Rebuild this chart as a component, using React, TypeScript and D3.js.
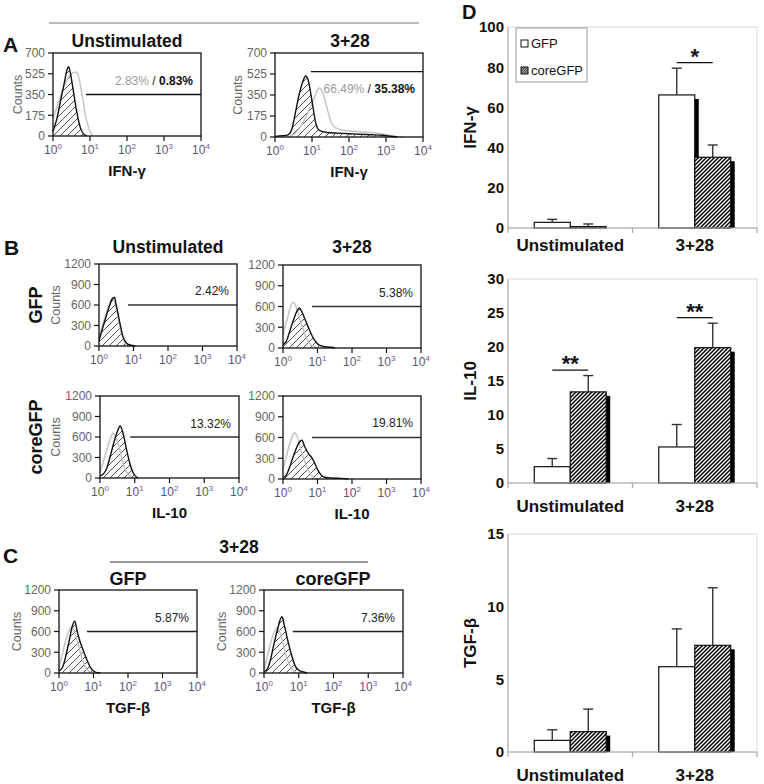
import React from 'react';
import * as d3 from 'd3';

type Pt = [number, number];

// ---------- DATA ----------
// Histograms: [log10 fluorescence, counts]
const aUnstimGray: Pt[] = [[0, 150], [0.15, 280], [0.3, 420], [0.45, 510], [0.55, 535], [0.62, 540], [0.7, 490], [0.8, 320], [0.9, 140], [1.0, 40], [1.08, 0]];
const aUnstimBlack: Pt[] = [[0, 40], [0.1, 140], [0.2, 290], [0.3, 440], [0.38, 560], [0.42, 585], [0.47, 530], [0.55, 380], [0.65, 190], [0.75, 60], [0.85, 10], [0.92, 0]];
const aStimGray: Pt[] = [[0.3, 0], [0.5, 20], [0.7, 90], [0.9, 210], [1.05, 320], [1.2, 408], [1.3, 360], [1.4, 250], [1.5, 140], [1.6, 85], [1.8, 58], [2.1, 48], [2.4, 42], [2.7, 35], [3.0, 20], [3.3, 5], [3.5, 0]];
const aStimBlack: Pt[] = [[0, 5], [0.2, 10], [0.35, 18], [0.45, 60], [0.55, 200], [0.65, 350], [0.75, 460], [0.83, 508], [0.9, 470], [1.0, 300], [1.1, 120], [1.2, 55], [1.4, 38], [1.7, 32], [2.0, 27], [2.3, 23], [2.6, 19], [2.9, 15], [3.1, 6], [3.3, 0]];

const bGfpUnstimGray: Pt[] = [[0, 120], [0.1, 300], [0.2, 470], [0.3, 620], [0.38, 690], [0.45, 650], [0.55, 420], [0.65, 180], [0.75, 50], [0.85, 10], [0.95, 0]];
const bGfpUnstimBlack: Pt[] = [[0, 80], [0.1, 250], [0.2, 420], [0.3, 580], [0.4, 700], [0.45, 710], [0.5, 600], [0.6, 350], [0.7, 130], [0.8, 40], [0.9, 15], [1.0, 5], [1.05, 0]];
const bGfpStimGray: Pt[] = [[0, 200], [0.1, 380], [0.2, 560], [0.28, 660], [0.33, 650], [0.4, 560], [0.5, 400], [0.6, 250], [0.7, 120], [0.8, 50], [0.9, 20], [1.0, 0]];
const bGfpStimBlack: Pt[] = [[0, 50], [0.1, 100], [0.2, 250], [0.3, 400], [0.4, 530], [0.47, 580], [0.55, 520], [0.65, 400], [0.75, 280], [0.85, 170], [0.95, 90], [1.05, 40], [1.2, 20], [1.4, 10], [1.5, 0]];
const bCoreUnstimGray: Pt[] = [[0, 80], [0.1, 250], [0.2, 420], [0.3, 580], [0.38, 660], [0.45, 600], [0.55, 450], [0.65, 250], [0.75, 100], [0.85, 30], [0.95, 0]];
const bCoreUnstimBlack: Pt[] = [[0, 30], [0.1, 60], [0.2, 150], [0.3, 330], [0.4, 520], [0.5, 680], [0.58, 760], [0.65, 680], [0.75, 450], [0.85, 230], [0.95, 80], [1.05, 15], [1.1, 0]];
const bCoreStimGray: Pt[] = [[0, 150], [0.1, 330], [0.2, 520], [0.3, 650], [0.35, 665], [0.42, 600], [0.5, 450], [0.6, 300], [0.7, 160], [0.8, 70], [0.9, 20], [1.0, 0]];
const bCoreStimBlack: Pt[] = [[0, 20], [0.1, 60], [0.2, 180], [0.3, 330], [0.4, 460], [0.5, 550], [0.55, 560], [0.62, 480], [0.72, 380], [0.82, 320], [0.9, 250], [1.0, 140], [1.1, 60], [1.2, 25], [1.4, 15], [1.6, 10], [1.8, 5], [1.9, 0]];

const cGfpGray: Pt[] = [[0, 80], [0.1, 280], [0.2, 480], [0.3, 620], [0.38, 670], [0.45, 600], [0.55, 420], [0.65, 240], [0.75, 100], [0.85, 30], [0.95, 0]];
const cGfpBlack: Pt[] = [[0, 30], [0.1, 80], [0.2, 250], [0.3, 480], [0.4, 700], [0.46, 750], [0.52, 620], [0.6, 470], [0.7, 330], [0.8, 200], [0.9, 90], [1.0, 30], [1.1, 5], [1.2, 0]];
const cCoreGray: Pt[] = [[0, 60], [0.1, 250], [0.2, 450], [0.3, 600], [0.38, 650], [0.45, 600], [0.55, 420], [0.65, 230], [0.75, 100], [0.85, 30], [0.95, 0]];
const cCoreBlack: Pt[] = [[0, 20], [0.1, 60], [0.2, 220], [0.3, 450], [0.4, 650], [0.48, 790], [0.52, 814], [0.58, 700], [0.68, 480], [0.8, 250], [0.9, 100], [1.0, 40], [1.1, 20], [1.24, 0]];

const histTicksA = [0, 175, 350, 525, 700];
const histTicksBC = [0, 300, 600, 900, 1200];
const decades = [0, 1, 2, 3, 4];

// Bar charts (panel D)
const categories = ['Unstimulated', '3+28'];
const seriesNames = ['GFP', 'coreGFP'];
const ifngGFP = [2.8, 66.2];
const ifngGFPErr = [1.5, 13.3];
const ifngCore = [0.7, 35.2];
const ifngCoreErr = [1.3, 6.1];
const il10GFP = [2.4, 5.3];
const il10GFPErr = [1.2, 3.3];
const il10Core = [13.4, 19.9];
const il10CoreErr = [2.4, 3.6];
const tgfGFP = [0.8, 5.87];
const tgfGFPErr = [0.73, 2.6];
const tgfCore = [1.4, 7.34];
const tgfCoreErr = [1.55, 3.96];
const ifngTicks = [0, 20, 40, 60, 80, 100];
const il10Ticks = [0, 5, 10, 15, 20, 25, 30];
const tgfTicks = [0, 5, 10, 15];
const ifngSig = [{ cat: '3+28', label: '*' }];
const il10Sig = [{ cat: 'Unstimulated', label: '**' }, { cat: '3+28', label: '**' }];
const tgfSig: { cat: string; label: string }[] = [];

// ---------- LAYOUT ----------
const FONT = "'Liberation Sans', Arial, Helvetica, sans-serif";

type HistSpec = {
  x0: number; x1: number; yT: number; yB: number;
  yMax: number; ticks: number[];
  gray: Pt[]; black: Pt[];
  gateCount: number; gateStart: number; gateColor: string;
  label: React.ReactNode; labelY: number;
  counts?: number; xLabel?: string;
};

const grayTxt = '#9a9a9a';

const hists: HistSpec[] = [
  {
    x0: 53, x1: 201, yT: 53, yB: 136, yMax: 700, ticks: histTicksA, gray: aUnstimGray, black: aUnstimBlack,
    gateCount: 350, gateStart: 0.89, gateColor: '#111', labelY: 85, counts: 22, xLabel: 'IFN-γ',
    label: (<><tspan fill={grayTxt}>2.83%</tspan><tspan fill="#222"> / </tspan><tspan fontWeight="bold" fill="#111">0.83%</tspan></>),
  },
  {
    x0: 275, x1: 423, yT: 53, yB: 137, yMax: 700, ticks: histTicksA, gray: aStimGray, black: aStimBlack,
    gateCount: 545, gateStart: 0.97, gateColor: '#111', labelY: 93, counts: 242, xLabel: 'IFN-γ',
    label: (<><tspan fill={grayTxt}>66.49%</tspan><tspan fill="#222"> / </tspan><tspan fontWeight="bold" fill="#111">35.38%</tspan></>),
  },
  {
    x0: 99, x1: 237, yT: 264, yB: 346, yMax: 1200, ticks: histTicksBC, gray: bGfpUnstimGray, black: bGfpUnstimBlack,
    gateCount: 600, gateStart: 0.84, gateColor: '#333', labelY: 295, counts: 60, label: '2.42%',
  },
  {
    x0: 283, x1: 421, yT: 265, yB: 348, yMax: 1200, ticks: histTicksBC, gray: bGfpStimGray, black: bGfpStimBlack,
    gateCount: 600, gateStart: 0.84, gateColor: '#333', labelY: 297, label: '5.38%',
  },
  {
    x0: 100, x1: 239, yT: 396, yB: 478, yMax: 1200, ticks: histTicksBC, gray: bCoreUnstimGray, black: bCoreUnstimBlack,
    gateCount: 600, gateStart: 0.87, gateColor: '#333', labelY: 428, counts: 60, xLabel: 'IL-10', label: '13.32%',
  },
  {
    x0: 283, x1: 421, yT: 396, yB: 479, yMax: 1200, ticks: histTicksBC, gray: bCoreStimGray, black: bCoreStimBlack,
    gateCount: 600, gateStart: 0.84, gateColor: '#333', labelY: 427, xLabel: 'IL-10', label: '19.81%',
  },
  {
    x0: 59, x1: 197, yT: 590, yB: 673, yMax: 1200, ticks: histTicksBC, gray: cGfpGray, black: cGfpBlack,
    gateCount: 600, gateStart: 0.81, gateColor: '#222', labelY: 622, counts: 21, xLabel: 'TGF-β', label: '5.87%',
  },
  {
    x0: 264, x1: 403, yT: 590, yB: 673, yMax: 1200, ticks: histTicksBC, gray: cCoreGray, black: cCoreBlack,
    gateCount: 600, gateStart: 0.83, gateColor: '#222', labelY: 622, counts: 226, xLabel: 'TGF-β', label: '7.36%',
  },
];

function Histogram({ h }: { h: HistSpec }) {
  const x = d3.scaleLinear().domain([0, 4]).range([h.x0, h.x1]);
  const y = d3.scaleLinear().domain([0, h.yMax]).range([h.yB, h.yT]);
  const line = d3.line<Pt>().x(d => x(d[0])).y(d => y(d[1])).curve(d3.curveMonotoneX);
  const area = d3.area<Pt>().x(d => x(d[0])).y0(y(0)).y1(d => y(d[1])).curve(d3.curveMonotoneX);
  return (
    <g>
      <path d={area(h.black) || ''} fill="url(#histHatch)" stroke="none" />
      <path d={line(h.gray) || ''} fill="none" stroke="#c4c4c4" strokeWidth={1.5} />
      <path d={line(h.black) || ''} fill="none" stroke="#111" strokeWidth={1.4} />
      <line x1={x(h.gateStart)} x2={h.x1} y1={y(h.gateCount)} y2={y(h.gateCount)} stroke={h.gateColor} strokeWidth={1.3} />
      <text x={h.x1 - 8} y={h.labelY} textAnchor="end" fontSize={12} fill="#222">{h.label}</text>
      <rect x={h.x0} y={h.yT} width={h.x1 - h.x0} height={h.yB - h.yT} fill="none" stroke="#111" strokeWidth={1.3} />
      {h.ticks.map(t => (
        <g key={'y' + t}>
          <line x1={h.x0 - 5} x2={h.x0} y1={y(t)} y2={y(t)} stroke="#111" strokeWidth={1.2} />
          <text x={h.x0 - 8} y={y(t)} dy="0.36em" textAnchor="end" fontSize={12} fill="#666">{t}</text>
        </g>
      ))}
      {decades.map(dd => (
        <g key={'x' + dd}>
          <line x1={x(dd)} x2={x(dd)} y1={h.yB} y2={h.yB + 5} stroke="#111" strokeWidth={1.2} />
          <text x={x(dd)} y={h.yB + 18} textAnchor="middle" fontSize={12} fill="#5e5470">
            10<tspan dy={-5} fontSize={8} fill="#7a4f9c">{dd}</tspan>
          </text>
        </g>
      ))}
      {h.counts !== undefined && (
        <text transform={`translate(${h.counts},${(h.yT + h.yB) / 2}) rotate(-90)`} textAnchor="middle" fontSize={12.5} fill="#666">Counts</text>
      )}
      {h.xLabel && (
        <text x={(h.x0 + h.x1) / 2} y={h.yB + 40} textAnchor="middle" fontSize={15} fontWeight="bold" fill="#111">{h.xLabel}</text>
      )}
    </g>
  );
}

type BarSpec = {
  top: number; bottom: number; yMax: number; ticks: number[];
  gfp: number[]; gfpErr: number[]; core: number[]; coreErr: number[];
  sig: { cat: string; label: string }[];
  yLabel: string; catY: number; legend?: boolean;
};

const barSpecs: BarSpec[] = [
  { top: 27, bottom: 228, yMax: 100, ticks: ifngTicks, gfp: ifngGFP, gfpErr: ifngGFPErr, core: ifngCore, coreErr: ifngCoreErr, sig: ifngSig, yLabel: 'IFN-γ', catY: 251, legend: true },
  { top: 279, bottom: 483, yMax: 30, ticks: il10Ticks, gfp: il10GFP, gfpErr: il10GFPErr, core: il10Core, coreErr: il10CoreErr, sig: il10Sig, yLabel: 'IL-10', catY: 512 },
  { top: 534, bottom: 752, yMax: 15, ticks: tgfTicks, gfp: tgfGFP, gfpErr: tgfGFPErr, core: tgfCore, coreErr: tgfCoreErr, sig: tgfSig, yLabel: 'TGF-β', catY: 781 },
];

const PLOT_L = 508;
const PLOT_R = 757;

function BarPanel({ s }: { s: BarSpec }) {
  const x = d3.scaleBand<string>().domain(categories).range([PLOT_L, PLOT_R]);
  const xs = d3.scaleBand<string>().domain(seriesNames).range([0, x.bandwidth()]).paddingInner(0).paddingOuter(0.73);
  const y = d3.scaleLinear().domain([0, s.yMax]).range([s.bottom, s.top]);
  const bw = xs.bandwidth();
  const vals: Record<string, number[]> = { GFP: s.gfp, coreGFP: s.core };
  const errs: Record<string, number[]> = { GFP: s.gfpErr, coreGFP: s.coreErr };
  return (
    <g>
      <rect x={PLOT_L} y={s.top} width={PLOT_R - PLOT_L} height={s.bottom - s.top} fill="none" stroke="#d9d9d9" strokeWidth={1} />
      <line x1={PLOT_L} x2={PLOT_L} y1={s.top} y2={s.bottom} stroke="#b5b5b5" strokeWidth={1.2} />
      {categories.map((c, i) => (
        <g key={c}>
          {seriesNames.map(sn => {
            const v = vals[sn][i];
            const e = errs[sn][i];
            const bx = (x(c) as number) + (xs(sn) as number);
            const cx = bx + bw / 2;
            return (
              <g key={sn}>
                <rect x={bx + 4} y={y(v) + 4} width={bw} height={Math.max(0, s.bottom - y(v) - 4)} fill="#000" />
                <rect x={bx} y={y(v)} width={bw} height={s.bottom - y(v)} fill={sn === 'GFP' ? '#fff' : 'url(#barHatch)'} stroke="#111" strokeWidth={1.2} />
                <line x1={cx} x2={cx} y1={y(v)} y2={y(v + e)} stroke="#333" strokeWidth={1.4} />
                <line x1={cx - 5} x2={cx + 5} y1={y(v + e)} y2={y(v + e)} stroke="#333" strokeWidth={1.4} />
              </g>
            );
          })}
        </g>
      ))}
      <line x1={PLOT_L} x2={PLOT_R} y1={s.bottom} y2={s.bottom} stroke="#a8a8a8" strokeWidth={1.2} />
      {[PLOT_L, (PLOT_L + PLOT_R) / 2, PLOT_R].map((tx, k) => (
        <line key={k} x1={tx} x2={tx} y1={s.bottom} y2={s.bottom + 5} stroke="#a8a8a8" strokeWidth={1.2} />
      ))}
      {s.ticks.map(t => (
        <text key={t} x={504} y={y(t)} dy="0.36em" textAnchor="end" fontSize={15} fontWeight="bold" fill="#111">{t}</text>
      ))}
      {categories.map(c => (
        <text key={c} x={(x(c) as number) + x.bandwidth() / 2} y={s.catY} textAnchor="middle" fontSize={17} fontWeight="bold" fill="#111">{c}</text>
      ))}
      {s.sig.map(g => {
        const i = categories.indexOf(g.cat);
        const top = Math.max(s.gfp[i] + s.gfpErr[i], s.core[i] + s.coreErr[i]);
        const ly = y(top) - 5.5;
        const x1 = (x(g.cat) as number) + (xs('GFP') as number) + bw / 2;
        const x2 = (x(g.cat) as number) + (xs('coreGFP') as number) + bw / 2;
        return (
          <g key={g.cat}>
            <line x1={x1} x2={x2} y1={ly} y2={ly} stroke="#111" strokeWidth={1.3} />
            <text x={(x1 + x2) / 2} y={ly + 1} textAnchor="middle" fontSize={22} fontWeight="bold" fill="#111">{g.label}</text>
          </g>
        );
      })}
      <text transform={`translate(476,${(s.top + s.bottom) / 2}) rotate(-90)`} textAnchor="middle" fontSize={17} fontWeight="bold" fill="#111">{s.yLabel}</text>
      {s.legend && (
        <g>
          <rect x={516} y={28} width={71} height={54} fill="#fff" stroke="#9a9a9a" strokeWidth={1} />
          {seriesNames.map((sn, k) => (
            <g key={sn}>
              <rect x={521} y={40 + k * 27} width={7} height={7} fill={sn === 'GFP' ? '#fff' : 'url(#barHatchSmall)'} stroke="#111" strokeWidth={1} />
              <text x={531} y={48 + k * 27} fontSize={13} fill="#111">{sn}</text>
            </g>
          ))}
        </g>
      )}
    </g>
  );
}

export default function App() {
  return (
    <svg width={764} height={784} viewBox="0 0 764 784" style={{ position: 'absolute', left: 0, top: 0, background: '#fff' }} fontFamily={FONT}>
      <defs>
        <pattern id="histHatch" patternUnits="userSpaceOnUse" width={7} height={7}>
          <path d="M-1,1 l2,-2 M0,7 l7,-7 M6,8 l2,-2" stroke="#222" strokeWidth={0.8} />
        </pattern>
        <pattern id="barHatch" patternUnits="userSpaceOnUse" width={4} height={4}>
          <rect width={4} height={4} fill="#fff" />
          <path d="M-1,1 l2,-2 M0,4 l4,-4 M3,5 l2,-2" stroke="#000" strokeWidth={1.5} />
        </pattern>
        <pattern id="barHatchSmall" patternUnits="userSpaceOnUse" width={2.5} height={2.5}>
          <rect width={2.5} height={2.5} fill="#fff" />
          <path d="M-0.5,0.5 l1,-1 M0,2.5 l2.5,-2.5 M2,3 l1,-1" stroke="#000" strokeWidth={1} />
        </pattern>
      </defs>
      <rect width={764} height={784} fill="#fff" />

      {/* Panel A */}
      <line x1={49} x2={419} y1={23} y2={23} stroke="#777" strokeWidth={1} />
      <text x={3} y={52} fontSize={21} fontWeight="bold" fill="#111">A</text>
      <text x={127} y={47} textAnchor="middle" fontSize={17.5} fontWeight="bold" fill="#111">Unstimulated</text>
      <text x={350} y={47} textAnchor="middle" fontSize={17.5} fontWeight="bold" fill="#111">3+28</text>

      {/* Panel B */}
      <text x={4} y={255} fontSize={21} fontWeight="bold" fill="#111">B</text>
      <text x={168} y={253} textAnchor="middle" fontSize={17.5} fontWeight="bold" fill="#111">Unstimulated</text>
      <text x={352} y={253} textAnchor="middle" fontSize={17.5} fontWeight="bold" fill="#111">3+28</text>
      <text transform="translate(42,305) rotate(-90)" textAnchor="middle" fontSize={18} fontWeight="bold" fill="#111">GFP</text>
      <text transform="translate(42,437) rotate(-90)" textAnchor="middle" fontSize={18} fontWeight="bold" fill="#111">coreGFP</text>

      {/* Panel C */}
      <text x={3} y={563} fontSize={21} fontWeight="bold" fill="#111">C</text>
      <text x={239} y={553} textAnchor="middle" fontSize={17.5} fontWeight="bold" fill="#111">3+28</text>
      <line x1={110} x2={368} y1={562} y2={562} stroke="#333" strokeWidth={1.2} />
      <text x={128} y={585} textAnchor="middle" fontSize={18} fontWeight="bold" fill="#111">GFP</text>
      <text x={333} y={585} textAnchor="middle" fontSize={18} fontWeight="bold" fill="#111">coreGFP</text>

      {hists.map((h, i) => <Histogram key={i} h={h} />)}

      {/* Panel D */}
      <text x={462} y={19} fontSize={20} fontWeight="bold" fill="#111">D</text>
      {barSpecs.map((s, i) => <BarPanel key={i} s={s} />)}
    </svg>
  );
}
